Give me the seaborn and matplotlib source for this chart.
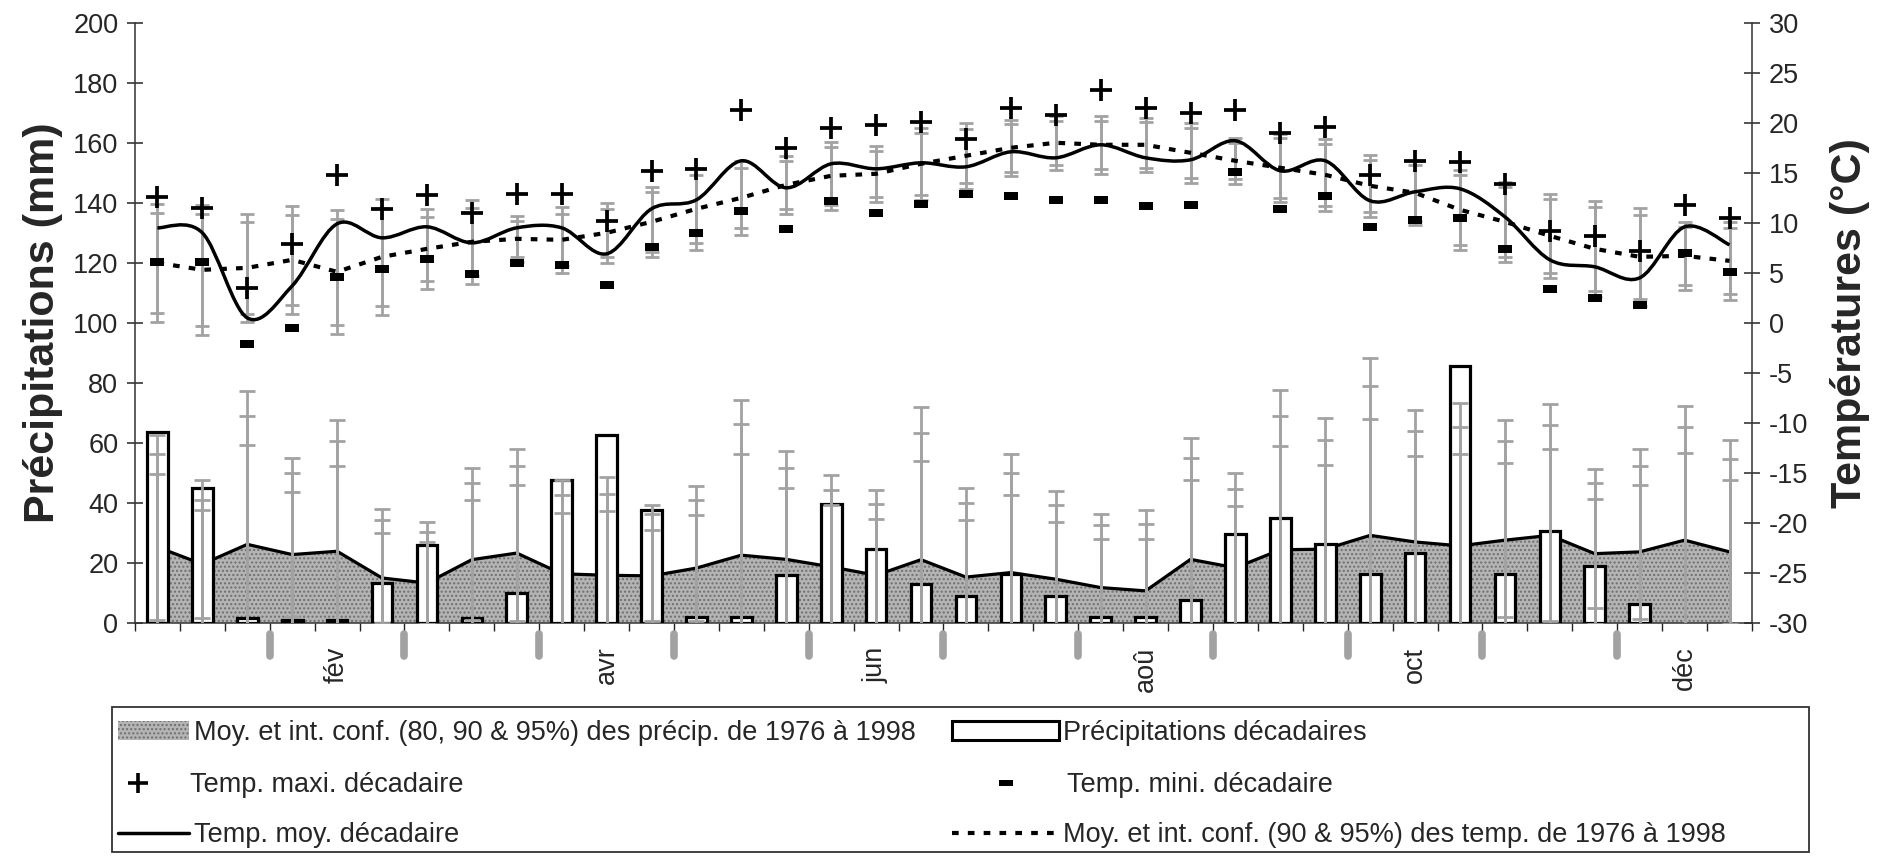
import matplotlib
matplotlib.use("Agg")
import matplotlib.pyplot as plt
import numpy as np
import seaborn as sns
from matplotlib.lines import Line2D
from matplotlib.patches import Patch, PathPatch, Rectangle
from matplotlib.path import Path

# 36 décades de l'année
decades = list(range(36))

# précipitations moyennes 1976-1998 (mm) et bornes hautes des intervalles de confiance
precip_mean = [25.3, 19.6, 26.2, 22.8, 23.9, 15.0, 13.3, 21.1, 23.3, 16.4, 15.9, 15.7,
               18.3, 22.6, 21.2, 18.7, 15.9, 21.1, 15.3, 16.8, 14.6, 11.8, 10.7, 21.2,
               18.4, 24.4, 24.6, 29.2, 27.0, 25.7, 27.6, 29.2, 23.1, 23.7, 27.6, 23.7]
precip_ic80 = [49.6, 37.6, 59.4, 43.7, 52.3, 30.0, 27.0, 41.1, 45.9, 36.8, 37.3, 30.9,
               35.9, 56.4, 45.0, 39.4, 34.6, 54.0, 34.4, 42.8, 33.7, 27.9, 28.1, 47.6,
               39.0, 58.9, 52.6, 67.9, 55.6, 56.4, 53.3, 57.9, 41.2, 46.1, 56.7, 47.6]
precip_ic90 = [56.4, 41.1, 68.9, 50.0, 60.6, 34.2, 30.3, 46.7, 52.2, 42.6, 43.1, 36.4,
               40.9, 66.4, 51.7, 44.4, 39.8, 63.4, 40.0, 50.0, 39.2, 32.6, 33.1, 55.0,
               44.6, 68.9, 61.1, 79.0, 63.9, 65.3, 60.7, 66.1, 46.7, 52.3, 65.3, 54.8]
precip_ic95 = [62.8, 47.8, 77.3, 55.1, 67.8, 38.0, 33.7, 51.8, 57.9, 47.6, 48.7, 39.4,
               45.6, 74.4, 57.2, 49.4, 44.4, 72.0, 45.1, 56.4, 43.9, 36.4, 37.8, 61.8,
               50.1, 77.6, 68.3, 88.4, 70.9, 73.4, 67.6, 73.1, 51.4, 57.9, 72.3, 61.1]

# précipitations décadaires de l'année (mm)
precip_dec = [63.5, 45.0, 1.5, 1.0, 1.0, 13.3, 26.0, 1.5, 10.0, 47.5, 62.6, 37.6,
              2.0, 2.0, 16.1, 39.8, 24.6, 13.1, 9.0, 16.4, 9.0, 2.0, 2.0, 7.8,
              29.6, 35.1, 26.2, 16.2, 23.4, 85.6, 16.4, 30.6, 18.9, 6.4, np.nan, np.nan]

# températures décadaires (°C)
temp_max = [12.6, 11.5, 3.5, 7.9, 14.8, 11.4, 12.8, 11.0, 12.9, 12.9, 10.2, 15.2,
            15.4, 21.3, 17.5, 19.5, 19.8, 20.1, 18.4, 21.5, 20.8, 23.3, 21.5, 21.0,
            21.3, 19.0, 19.6, 14.8, 16.2, 16.1, 13.9, 9.2, 8.7, 7.2, 11.8, 10.5]
temp_min = [6.1, 6.1, -2.1, -0.5, 4.6, 5.4, 6.4, 4.9, 6.0, 5.8, 3.8, 7.6,
            9.0, 11.2, 9.4, 12.2, 11.0, 11.9, 12.9, 12.7, 12.3, 12.3, 11.7, 11.8,
            15.1, 11.4, 12.7, 9.6, 10.3, 10.5, 7.4, 3.4, 2.5, 1.8, 7.0, 5.1]
temp_moy = [9.5, 9.0, 0.5, 3.7, 9.9, 8.5, 9.6, 8.0, 9.5, 9.5, 6.9, 11.4,
            12.3, 16.2, 13.5, 15.9, 15.4, 16.0, 15.6, 17.1, 16.5, 17.8, 16.5, 16.3,
            18.2, 15.2, 16.2, 12.2, 13.1, 13.4, 10.6, 6.3, 5.6, 4.5, 9.6, 7.8]

# températures moyennes 1976-1998 et demi-largeurs des intervalles de confiance
temp_clim = [6.0, 5.3, 5.5, 6.3, 5.1, 6.6, 7.4, 8.1, 8.4, 8.3, 9.0, 10.1,
             11.4, 12.5, 13.8, 14.7, 14.9, 15.9, 16.7, 17.5, 18.0, 17.8, 17.8, 17.0,
             16.2, 15.5, 14.8, 13.7, 13.0, 11.3, 10.1, 8.7, 7.4, 6.6, 6.7, 6.2]
temp_ic90 = [5.0, 5.6, 4.6, 4.5, 5.3, 4.9, 3.2, 3.4, 1.8, 2.6, 2.4, 3.0,
             3.4, 3.0, 2.4, 2.9, 2.3, 3.1, 2.7, 2.4, 2.2, 2.4, 2.3, 2.5,
             1.8, 3.0, 3.1, 2.6, 2.8, 3.5, 3.5, 3.7, 4.2, 4.2, 2.9, 3.3]
temp_ic95 = [5.9, 6.5, 5.4, 5.4, 6.2, 5.8, 4.0, 4.2, 2.3, 3.3, 3.0, 3.5,
             4.1, 3.7, 2.9, 3.4, 2.8, 3.6, 3.3, 2.8, 2.7, 2.9, 2.7, 3.0,
             2.3, 3.4, 3.6, 3.1, 3.2, 4.0, 4.0, 4.2, 4.8, 4.9, 3.4, 3.9]

month_labels = ["fév", "avr", "jun", "aoû", "oct", "déc"]
month_pos = [4, 10, 16, 22, 28, 34]
month_sep = [2.5, 5.5, 8.5, 11.5, 14.5, 17.5, 20.5, 23.5, 26.5, 29.5, 32.5]

GREY = "#a2a2a2"
AREA = "#b4b4b4"
HATCH = "#6e6e6e"
FS = 19.5

sns.set_style("ticks")
plt.rcParams["font.family"] = ["Liberation Sans", "DejaVu Sans"]
plt.rcParams["axes.unicode_minus"] = False
plt.rcParams["hatch.linewidth"] = 1.0


def smooth_path(x, y):
    # courbe lissée façon tableur (Bézier passant par les points)
    n = len(x)
    verts = [(x[0], y[0])]
    codes = [Path.MOVETO]
    for i in range(n - 1):
        a = max(i - 1, 0)
        b = min(i + 2, n - 1)
        c1 = (x[i] + (x[i + 1] - x[a]) / 6, y[i] + (y[i + 1] - y[a]) / 6)
        c2 = (x[i + 1] - (x[b] - x[i]) / 6, y[i + 1] - (y[b] - y[i]) / 6)
        verts += [c1, c2, (x[i + 1], y[i + 1])]
        codes += [Path.CURVE4] * 3
    return Path(verts, codes)


fig = plt.figure(figsize=(18.93, 8.58), dpi=100)
ax = fig.add_axes([0.0713, 0.2739, 0.8542, 0.6996])

# précipitations
pm = np.array(precip_mean)
ax.fill_between(decades, 0, pm, facecolor=AREA, edgecolor=HATCH,
                hatch="....", linewidth=0, zorder=1)
sns.lineplot(x=decades, y=precip_mean, color="black", linewidth=2.3, ax=ax, zorder=2)
sns.barplot(x=decades, y=precip_dec, order=decades, color="white", saturation=1,
            edgecolor="black", linewidth=2.3, width=0.46, errorbar=None, ax=ax, zorder=3)
for top in (precip_ic80, precip_ic90, precip_ic95):
    ax.errorbar(decades, pm, yerr=np.array(top) - pm, fmt="none", ecolor=GREY,
                elinewidth=2.0, capsize=5.5, capthick=2.0, zorder=4)

ax.set_xlim(-0.5, 35.5)
ax.set_ylim(0, 200)
ax.set_yticks(range(0, 201, 20))
ax.set_xticks(month_pos, month_labels, rotation=90)
ax.set_xticks([d - 0.5 for d in decades] + [35.5], minor=True)
ax.tick_params(axis="x", which="major", length=0, pad=17, labelsize=FS)
ax.tick_params(axis="x", which="minor", direction="out", length=6, width=1, color="#222")
ax.tick_params(axis="y", direction="inout", length=12, width=1.1, labelsize=FS, pad=6)
ax.vlines(month_sep, -0.018, -0.055, transform=ax.get_xaxis_transform(), colors=GREY,
          linewidth=5.5, capstyle="round", clip_on=False)
ax.set_xlabel("")
ax.set_ylabel("Précipitations (mm)", fontsize=31, fontweight="bold", labelpad=7)
for s in ("top", "right"):
    ax.spines[s].set_visible(False)
for s in ("left", "bottom"):
    ax.spines[s].set_color("#333")
    ax.spines[s].set_linewidth(1.1)

# températures
ax2 = ax.twinx()
tc = np.array(temp_clim)
for half in (temp_ic90, temp_ic95):
    ax2.errorbar(decades, tc, yerr=half, fmt="none", ecolor=GREY, elinewidth=2.0,
                 capsize=5, capthick=2.0, zorder=1)
sns.lineplot(x=decades, y=temp_clim, color="black", linewidth=3.0,
             linestyle=(0, (1.6, 2.2)), ax=ax2, zorder=2)
ax2.add_patch(PathPatch(smooth_path(decades, temp_moy), fill=False,
                        edgecolor="black", linewidth=2.5, zorder=3))
rect = [(-1, -0.5), (1, -0.5), (1, 0.5), (-1, 0.5), (-1, -0.5)]
sns.scatterplot(x=decades, y=temp_max, marker="+", s=240, color="black",
                linewidth=2.7, ax=ax2, zorder=4)
sns.scatterplot(x=decades, y=temp_min, marker=rect, s=110, color="black",
                linewidth=0, ax=ax2, zorder=4)
ax2.set_ylim(-30, 30)
ax2.set_yticks(range(-30, 31, 5))
ax2.tick_params(axis="y", direction="inout", length=12, width=1.1, labelsize=FS, pad=6)
ax2.set_ylabel("Températures (°C)", fontsize=31, fontweight="bold", labelpad=16)
for s in ("top", "left", "bottom"):
    ax2.spines[s].set_visible(False)
ax2.spines["right"].set_color("#333")
ax2.spines["right"].set_linewidth(1.1)
ax.set_xlim(-0.5, 35.5)

# légende
fig.add_artist(Rectangle((0.0592, 0.007), 0.8964, 0.169, transform=fig.transFigure,
                         fill=False, edgecolor="#333", linewidth=1.3))
h_area = Patch(facecolor=AREA, edgecolor=HATCH, hatch="....", linewidth=0)
h_bar = Patch(facecolor="white", edgecolor="black", linewidth=2.2)
h_max = Line2D([], [], ls="none", marker="+", ms=15, mew=2.6, color="black")
h_min = Line2D([], [], ls="none", marker=rect, ms=10, mew=0, color="black")
h_moy = Line2D([], [], color="black", lw=2.5)
h_clim = Line2D([], [], color="black", lw=3.0, ls=(0, (1.6, 2.2)))

entries = [
    (h_area, "Moy. et int. conf. (80, 90 & 95%) des précip. de 1976 à 1998", 0.0623, 0.1457, 2.64, 0.18),
    (h_max, "Temp. maxi. décadaire", 0.0623, 0.0851, 1.5, 1.15),
    (h_moy, "Temp. moy. décadaire", 0.0623, 0.0268, 2.64, 0.18),
    (h_bar, "Précipitations décadaires", 0.5029, 0.1457, 3.96, 0.15),
    (h_min, "Temp. mini. décadaire", 0.5029, 0.0851, 3.96, 0.29),
    (h_clim, "Moy. et int. conf. (90 & 95%) des temp. de 1976 à 1998", 0.5029, 0.0268, 3.96, 0.15),
]
for h, lab, x, y, hl, pad in entries:
    fig.legend([h], [lab], loc="center left", bbox_to_anchor=(x, y),
               bbox_transform=fig.transFigure, frameon=False, fontsize=FS,
               handlelength=hl, handletextpad=pad, borderpad=0, borderaxespad=0)

fig.savefig("out.png", dpi=100)
